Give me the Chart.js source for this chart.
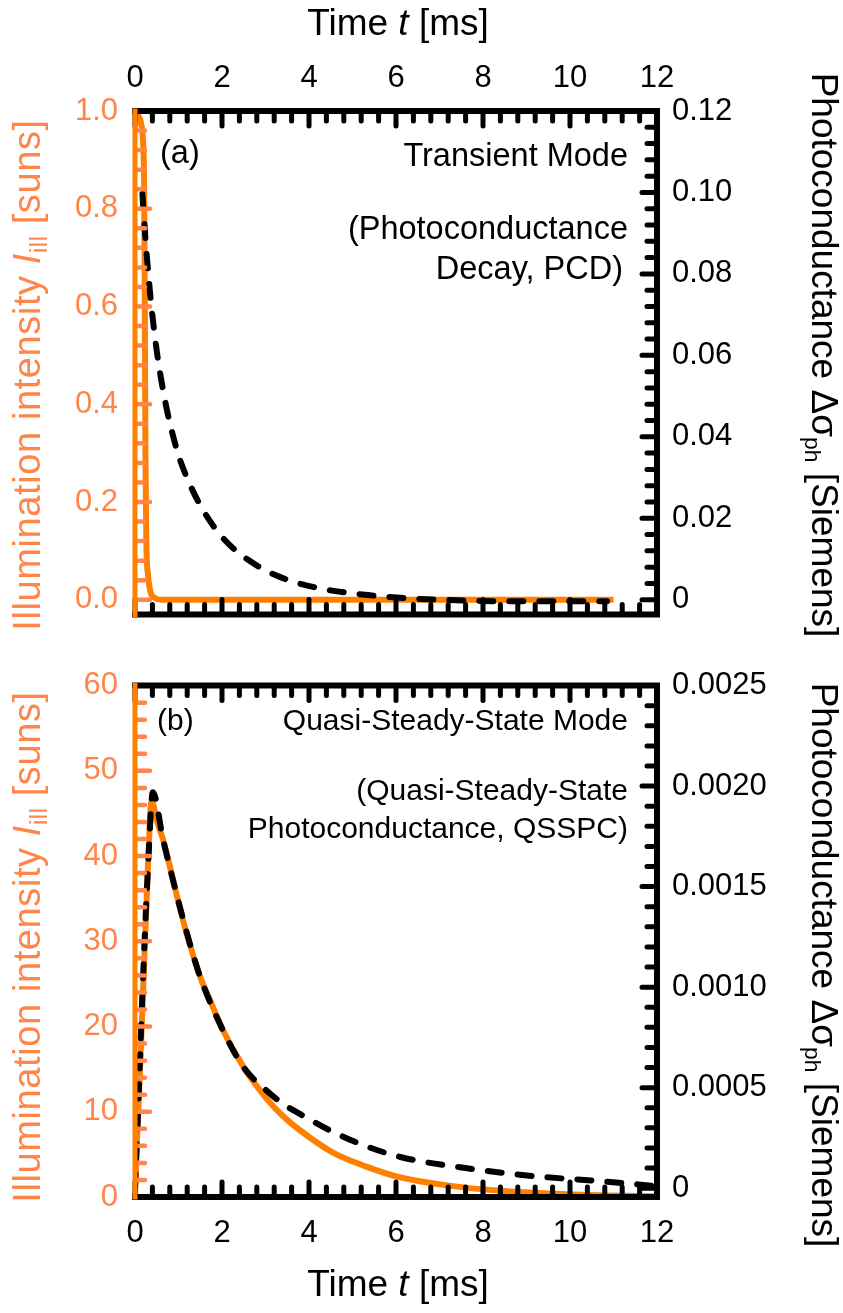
<!DOCTYPE html>
<html>
<head>
<meta charset="utf-8">
<script src="https://cdn.jsdelivr.net/npm/chart.js@4.4.0/dist/chart.umd.min.js"></script>
<style>
  body { margin: 0; background: #fff; }
  #wrap { position: relative; width: 843px; height: 1313px; font-family: 'Liberation Sans', Arial, sans-serif; color: #000; }
  canvas { position: absolute; left: 0; }
  .t { position: absolute; white-space: nowrap; line-height: 1; }
  .title { font-size: 37px; }
  .ltitle { font-size: 38px; letter-spacing: 0.6px; }
  .noteA { font-size: 32.5px; }
  .noteB { font-size: 30px; }
  .orange { color: #ff8549; }
  sub { font-size: 0.62em; vertical-align: -0.3em; }
</style>
</head>
<body>
<div id="wrap">
  <canvas id="chartA" width="843" height="650" style="top:0"></canvas>
  <canvas id="chartB" width="843" height="663" style="top:650px"></canvas>

  <div class="t title" style="left:398px; top:22px; transform:translate(-50%,-50%)">Time <i>t</i> [ms]</div>
  <div class="t title" style="left:398px; top:1283px; transform:translate(-50%,-50%)">Time <i>t</i> [ms]</div>

  <div class="t ltitle orange" style="left:30px; top:375px; transform:translate(-50%,-50%) rotate(-90deg)">Illumination intensity <i>I</i><sub>ill</sub> [suns]</div>
  <div class="t ltitle orange" style="left:30px; top:947px; transform:translate(-50%,-50%) rotate(-90deg)">Illumination intensity <i>I</i><sub>ill</sub> [suns]</div>

  <div class="t title" style="left:822px; top:355px; transform:translate(-50%,-50%) rotate(90deg)">Photoconductance Δσ<sub>ph</sub> [Siemens]</div>
  <div class="t title" style="left:822px; top:965px; transform:translate(-50%,-50%) rotate(90deg)">Photoconductance Δσ<sub>ph</sub> [Siemens]</div>

  <div class="t noteA" style="left:160px; top:152px; transform:translateY(-50%)">(a)</div>
  <div class="t noteA" style="right:215px; top:155px; transform:translateY(-50%)">Transient Mode</div>
  <div class="t noteA" style="right:215px; top:228px; transform:translateY(-50%)">(Photoconductance</div>
  <div class="t noteA" style="right:220px; top:268px; transform:translateY(-50%)">Decay, PCD)</div>

  <div class="t noteB" style="left:157px; top:720px; transform:translateY(-50%)">(b)</div>
  <div class="t noteB" style="right:215px; top:720px; transform:translateY(-50%)">Quasi-Steady-State Mode</div>
  <div class="t noteB" style="right:215px; top:790px; transform:translateY(-50%)">(Quasi-Steady-State</div>
  <div class="t noteB" style="right:215px; top:828px; transform:translateY(-50%)">Photoconductance, QSSPC)</div>
</div>

<script>
// Панель (a): переходный режим (PCD)
const illumTimeA = [0, 0.08, 0.15, 0.19, 0.21, 0.22, 0.23, 0.24, 0.26, 0.3, 0.36, 0.45, 0.6, 1.0, 11.0];
const illumA     = [1.0, 0.99, 0.97, 0.93, 0.85, 0.7, 0.5, 0.3, 0.12, 0.05, 0.015, 0.004, 0, 0, 0];
const pcTimeA = [0.17, 0.22, 0.27, 0.37, 0.5, 0.6, 0.73, 0.88, 1.03, 1.25, 1.49, 1.85, 2.24, 2.6, 3.0, 3.4, 3.77, 4.5, 5.4, 6.2, 7.0, 8.0, 9.0, 10.0, 10.85];
const pcA     = [0.0996, 0.0916, 0.0846, 0.0728, 0.0611, 0.0542, 0.0468, 0.0400, 0.0345, 0.0286, 0.0234, 0.0174, 0.0128, 0.0098, 0.0072, 0.0053, 0.0040, 0.0023, 0.0011, 0.0004, 0.0, -0.0003, -0.0004, -0.0004, -0.0004];

// Панель (b): квазистационарный режим (QSSPC)
const illumTimeB = [0, 0.05, 0.1, 0.2, 0.3, 0.38, 0.5, 0.64, 0.8, 0.97, 1.15, 1.31, 1.5, 1.75, 2.0, 2.5, 3.0, 3.4, 3.8, 4.55, 5.3, 6.1, 7.6, 9.15, 10.7, 12.0];
const illumB     = [0, 7, 13, 26, 39, 46.5, 44.2, 42.0, 38.8, 35.2, 31.6, 28.8, 25.8, 22.8, 19.8, 15.2, 11.7, 9.5, 7.8, 5.2, 3.6, 2.3, 1.1, 0.5, 0.2, 0.1];
const pcTimeB = [0, 0.07, 0.18, 0.3, 0.41, 0.64, 0.97, 1.31, 1.5, 2.0, 2.5, 3.0, 3.4, 3.8, 4.55, 5.3, 6.1, 7.6, 9.15, 10.7, 12.0];
const pcB     = [0, 0.00038, 0.00102, 0.0016, 0.00197, 0.00174, 0.00145, 0.00118, 0.00105, 0.000795, 0.0006, 0.00049, 0.00042, 0.000368, 0.00028, 0.00021, 0.000155, 0.0001, 0.00006, 0.000035, 0.00001];

// Подписи делений
const timeTicks  = [0, 2, 4, 6, 8, 10, 12];
const illumTicksA = [0, 0.2, 0.4, 0.6, 0.8, 1.0];
const illumLabelsA = ['0.0', '0.2', '0.4', '0.6', '0.8', '1.0'];
const pcTicksA  = [0, 0.02, 0.04, 0.06, 0.08, 0.10, 0.12];
const pcLabelsA = ['0', '0.02', '0.04', '0.06', '0.08', '0.10', '0.12'];
const illumTicksB = [0, 10, 20, 30, 40, 50, 60];
const pcTicksB  = [0, 0.0005, 0.0010, 0.0015, 0.0020, 0.0025];
const pcLabelsB = ['0', '0.0005', '0.0010', '0.0015', '0.0020', '0.0025'];

const ORANGE_LINE = '#ff8000';
const ORANGE_TEXT = '#ff8549';
const FONT = "'Liberation Sans', Arial, sans-serif";

Chart.defaults.font.family = FONT;

function points(xs, ys) {
    return xs.map((x, i) => ({ x, y: ys[i] }));
}

function minorVals(min, max, step) {
    const out = [];
    for (let k = Math.ceil(min / step - 1e-9); k * step <= max + 1e-9; k++) out.push(k * step);
    return out;
}

// Засечки внутрь и рамка
function drawTicks(ctx, scale, side, area, majors, step, color, width) {
    ctx.strokeStyle = color;
    ctx.lineWidth = width;
    minorVals(scale.min, scale.max, step).forEach(v => {
        const major = majors.some(m => Math.abs(m - v) < step * 1e-3);
        const len = major ? 15 : 10;
        const p = scale.getPixelForValue(v);
        ctx.beginPath();
        if (side === 'top') { ctx.moveTo(p, area.top); ctx.lineTo(p, area.top + len); }
        if (side === 'bottom') { ctx.moveTo(p, area.bottom); ctx.lineTo(p, area.bottom - len); }
        if (side === 'left') { ctx.moveTo(area.left, p); ctx.lineTo(area.left + len, p); }
        if (side === 'right') { ctx.moveTo(area.right, p); ctx.lineTo(area.right - len, p); }
        ctx.stroke();
    });
}

function framePlugin(cfg) {
    return {
        id: 'frame',
        afterDatasetsDraw(chart) {
            const { ctx, chartArea: a, scales } = chart;
            ctx.save();
            ctx.lineCap = 'round';
            drawTicks(ctx, scales.x2, 'top', a, timeTicks, 0.4, '#000', 5);
            drawTicks(ctx, scales.x, 'bottom', a, timeTicks, 0.4, '#000', 5);
            drawTicks(ctx, scales.y2, 'right', a, cfg.rightMajors, cfg.rightStep, '#000', 5);
            drawTicks(ctx, scales.y, 'left', a, cfg.leftMajors, cfg.leftStep, ORANGE_TEXT, 4.5);
            ctx.lineCap = 'square';
            ctx.strokeStyle = '#000';
            ctx.lineWidth = 6;
            ctx.beginPath();
            ctx.moveTo(a.left, a.top);
            ctx.lineTo(a.right, a.top);
            ctx.lineTo(a.right, a.bottom);
            ctx.lineTo(a.left, a.bottom);
            ctx.stroke();
            ctx.strokeStyle = ORANGE_LINE;
            ctx.lineWidth = 5;
            ctx.beginPath();
            ctx.moveTo(a.left, a.top);
            ctx.lineTo(a.left, a.bottom);
            ctx.stroke();
            ctx.restore();
        }
    };
}

function axis(opts) {
    return Object.assign({
        type: 'linear',
        grid: { display: false, drawTicks: false },
        border: { display: false }
    }, opts);
}

function buildChart(id, cfg) {
    const tickFont = { size: 31, family: FONT };
    return new Chart(document.getElementById(id), {
        type: 'scatter',
        data: {
            datasets: [
                {
                    data: points(cfg.pcTime, cfg.pc),
                    xAxisID: 'x', yAxisID: 'y2',
                    showLine: true, pointRadius: 0,
                    borderColor: '#000', borderWidth: 6,
                    borderDash: [14, 16], borderCapStyle: 'round',
                    cubicInterpolationMode: 'monotone'
                },
                {
                    data: points(cfg.illumTime, cfg.illum),
                    xAxisID: 'x', yAxisID: 'y',
                    showLine: true, pointRadius: 0,
                    borderColor: ORANGE_LINE, borderWidth: 6,
                    cubicInterpolationMode: 'monotone'
                }
            ]
        },
        options: {
            responsive: false,
            animation: false,
            devicePixelRatio: 1,
            layout: { padding: 0 },
            plugins: { legend: { display: false }, tooltip: { enabled: false } },
            scales: {
                x: axis({
                    position: 'bottom', min: 0, max: 12,
                    afterBuildTicks: s => { s.ticks = timeTicks.map(v => ({ value: v })); },
                    ticks: { display: cfg.bottomLabels, color: '#000', font: tickFont, padding: 18, maxRotation: 0 },
                    afterFit: s => { s.height = cfg.bottomH; }
                }),
                x2: axis({
                    position: 'top', min: 0, max: 12,
                    afterBuildTicks: s => { s.ticks = timeTicks.map(v => ({ value: v })); },
                    ticks: { display: !cfg.bottomLabels, color: '#000', font: tickFont, padding: 14, maxRotation: 0 },
                    afterFit: s => { s.height = cfg.topH; }
                }),
                y: axis({
                    position: 'left', min: cfg.leftMin, max: cfg.leftMax,
                    afterBuildTicks: s => { s.ticks = cfg.leftMajors.map(v => ({ value: v })); },
                    ticks: { color: ORANGE_TEXT, font: tickFont, padding: 17, callback: (v, i) => cfg.leftLabels[i] },
                    afterFit: s => { s.width = 135; }
                }),
                y2: axis({
                    position: 'right', min: cfg.rightMin, max: cfg.rightMax,
                    afterBuildTicks: s => { s.ticks = cfg.rightMajors.map(v => ({ value: v })); },
                    ticks: { color: '#000', font: tickFont, padding: 15, callback: (v, i) => cfg.rightLabels[i] },
                    afterFit: s => { s.width = 186; }
                })
            }
        },
        plugins: [framePlugin(cfg)]
    });
}

buildChart('chartA', {
    illumTime: illumTimeA, illum: illumA, pcTime: pcTimeA, pc: pcA,
    leftMin: -0.03, leftMax: 1.0, leftMajors: illumTicksA, leftLabels: illumLabelsA, leftStep: 0.04,
    rightMin: -0.0036, rightMax: 0.12, rightMajors: pcTicksA, rightLabels: pcLabelsA, rightStep: 0.004,
    bottomLabels: false, topH: 111, bottomH: 18
});

buildChart('chartB', {
    illumTime: illumTimeB, illum: illumB, pcTime: pcTimeB, pc: pcB,
    leftMin: 0, leftMax: 60, leftMajors: illumTicksB, leftLabels: illumTicksB.map(String), leftStep: 2,
    rightMin: -0.000044, rightMax: 0.0025, rightMajors: pcTicksB, rightLabels: pcLabelsB, rightStep: 0.0001,
    bottomLabels: true, topH: 28, bottomH: 116
});
</script>
</body>
</html>
